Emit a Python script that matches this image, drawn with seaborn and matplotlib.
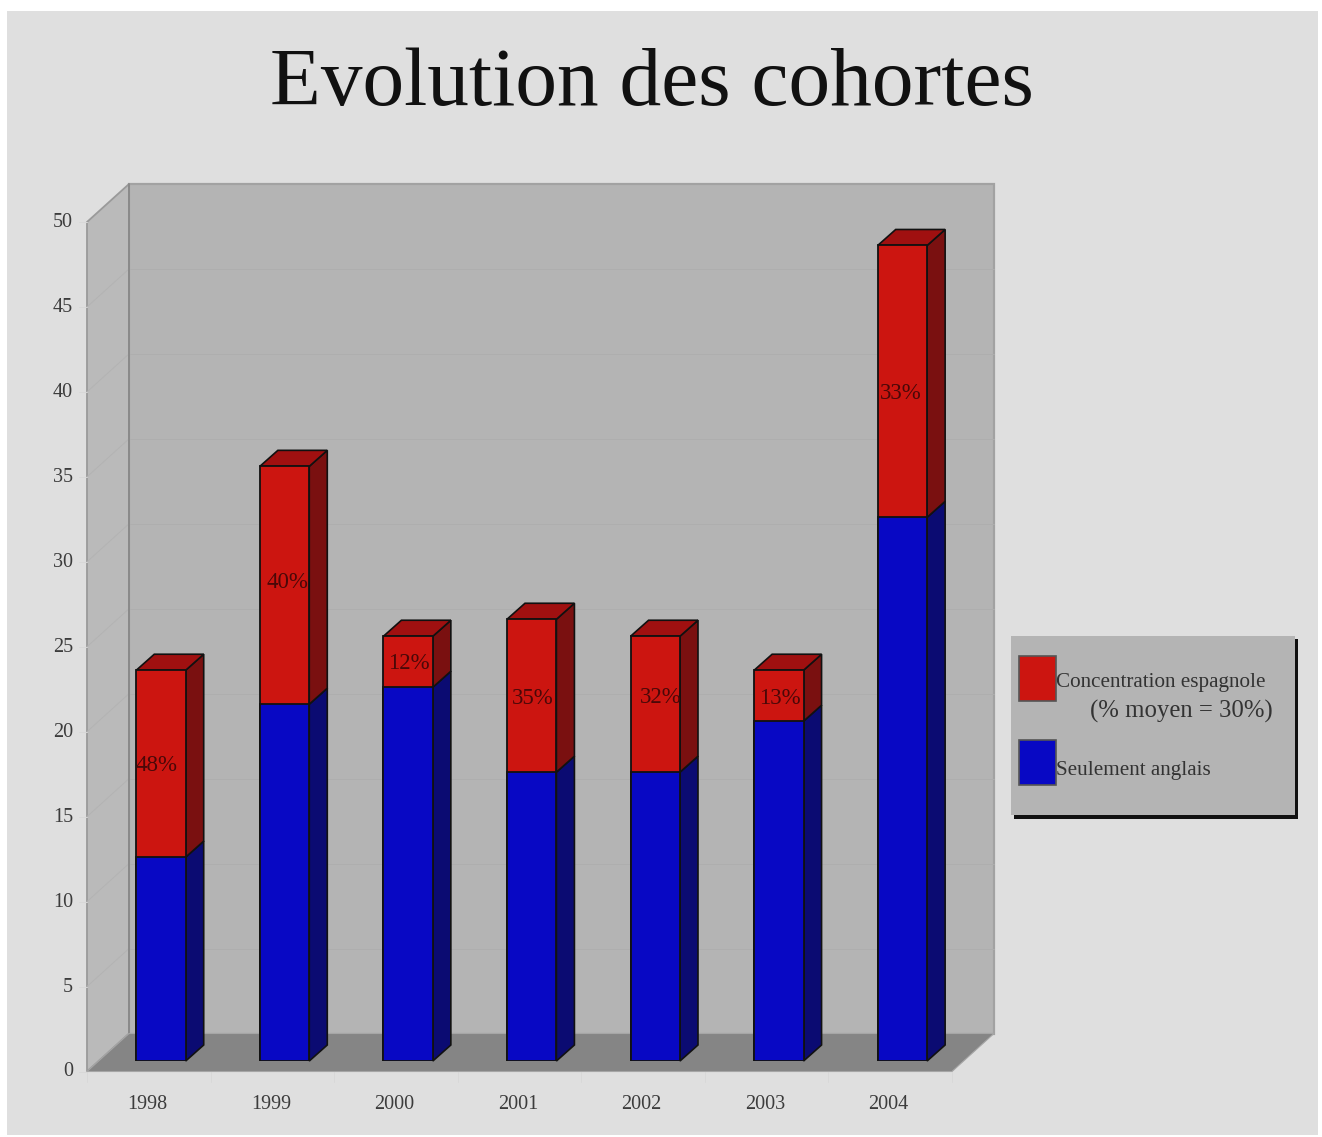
import matplotlib
matplotlib.use("Agg")
import matplotlib.pyplot as plt
import seaborn as sns
from matplotlib.patches import Polygon, Rectangle
from matplotlib.transforms import IdentityTransform, Affine2D

years = ["1998", "1999", "2000", "2001", "2002", "2003", "2004"]
english_only = [12, 21, 22, 17, 17, 20, 32]
totals = [23, 35, 25, 26, 25, 23, 48]
pct_labels = ["48%", "40%", "12%", "35%", "32%", "13%", "33%"]
label_nudge_x = [-4, 3, 1, 1, 5, 1, -2]
label_nudge_y = [-3, 2, -3, -4, 6, -4, -13]
y_ticks = [0, 5, 10, 15, 20, 25, 30, 35, 40, 45, 50]

W, H = 1322, 1137
sns.set_theme(style="white")
plt.rcParams["font.family"] = ["Liberation Serif", "DejaVu Serif"]
fig = plt.figure(figsize=(W / 100, H / 100), dpi=100, facecolor="white")


def figrect(x0, y0, x1, y1, **kw):
    fig.patches.append(Rectangle((x0 / W, 1 - y1 / H), (x1 - x0) / W, (y1 - y0) / H,
                                 transform=fig.transFigure, **kw))


figrect(7, 11, 1318, 1135, fc="#DFDFDF", ec="none", zorder=-5)

# front plane axes: ticks and labels
ax = fig.add_axes([87 / W, 1 - 1071.5 / H, 865 / W, 849.5 / H], zorder=2)
ax.set_xlim(-0.5, 6.5)
ax.set_ylim(0, 50)
ax.patch.set_alpha(0)
for s in ax.spines.values():
    s.set_visible(False)
ax.set_xticks(range(len(years)))
ax.set_xticklabels(years)
ax.set_yticks(y_ticks)
ax.tick_params(axis="x", length=0, pad=17, labelsize=14.5, labelcolor="#3C3C3C")
ax.tick_params(axis="y", length=0, pad=10, labelsize=14.5, labelcolor="#3C3C3C")
for lab in ax.get_yticklabels():
    lab.set_transform(lab.get_transform() + Affine2D().translate(0, 2))
for lab in ax.get_xticklabels():
    lab.set_transform(lab.get_transform() + Affine2D().translate(-1.5, 0))

# overlay axes: bars, shifted inside the box depth
ax2 = fig.add_axes([(87 + 12.2) / W, 1 - 1061 / H, 865 / W, 849.5 / H], zorder=3)
sns.barplot(x=years, y=totals, color="#CC1510", width=0.4, saturation=1,
            edgecolor="#111111", linewidth=1.3, ax=ax2, zorder=5)
sns.barplot(x=years, y=english_only, color="#0808C4", width=0.4, saturation=1,
            edgecolor="#111111", linewidth=1.3, ax=ax2, zorder=6)
ax2.set_xlim(-0.5, 6.5)
ax2.set_ylim(0, 50)
ax2.axis("off")

DX, DY = 42, 38     # box depth in px
BX, BY = 18, 16     # bar depth in px


def poly(axis, pts, **kw):
    axis.add_patch(Polygon(pts, closed=True, transform=IdentityTransform(), clip_on=False, **kw))


fig.canvas.draw()
T = ax.transData.transform
x0, y0 = T((-0.5, 0))
x1, y1 = T((6.5, 50))
poly(ax, [(x0 + DX, y0 + DY), (x1 + DX, y0 + DY), (x1 + DX, y1 + DY), (x0 + DX, y1 + DY)],
     fc="#B4B4B4", ec="#A2A2A2", lw=1.6, zorder=1)
poly(ax, [(x0, y0), (x0 + DX, y0 + DY), (x0 + DX, y1 + DY), (x0, y1)],
     fc="#BABABA", ec="#9A9A9A", lw=1.3, zorder=2)
poly(ax, [(x0, y0), (x1, y0), (x1 + DX, y0 + DY), (x0 + DX, y0 + DY)],
     fc="#858585", ec="#A6A6A6", lw=0.8, zorder=3)
ax.plot([x0 + DX, x0 + DX], [y0 + DY, y1 + DY], color="#8A8A8A", lw=1.4,
        transform=IdentityTransform(), zorder=2.5, clip_on=False)

# faint gridlines on walls and small ticks
for v in y_ticks[1:-1]:
    _, yy = T((0, v))
    ax.plot([x0 + DX, x1 + DX], [yy + DY, yy + DY], color="#AEAEAE", lw=0.7,
            transform=IdentityTransform(), zorder=1.5, clip_on=False)
    ax.plot([x0, x0 + DX], [yy, yy + DY], color="#B3B3B3", lw=0.7,
            transform=IdentityTransform(), zorder=2.2, clip_on=False)
for v in y_ticks:
    _, yy = T((0, v))
    ax.plot([x0 - 8, x0], [yy, yy], color="#D8D8D8", lw=0.7,
            transform=IdentityTransform(), clip_on=False)
for i in range(len(years) + 1):
    xx, _ = T((i - 0.5, 0))
    ax.plot([xx, xx], [y0, y0 - 10], color="#D8D8D8", lw=0.7,
            transform=IdentityTransform(), clip_on=False)
ax.set_xlim(-0.5, 6.5)
ax.set_ylim(0, 50)

# 3D faces of the bars
T2 = ax2.transData.transform
hw = 0.2
for i, (low, tot) in enumerate(zip(english_only, totals)):
    xa, yb = T2((i - hw, 0))
    xb, yl = T2((i + hw, low))
    _, yt = T2((i, tot))
    edge = dict(ec="#111111", lw=1.2, zorder=4)
    poly(ax2, [(xb, yb), (xb + BX, yb + BY), (xb + BX, yl + BY), (xb, yl)], fc="#0B0B72", **edge)
    poly(ax2, [(xb, yl), (xb + BX, yl + BY), (xb + BX, yt + BY), (xb, yt)], fc="#7A1010", **edge)
    poly(ax2, [(xa, yt), (xb, yt), (xb + BX, yt + BY), (xa + BX, yt + BY)], fc="#A01010", **edge)
    cx, cy = T2((i, (low + tot) / 2))
    ax2.text(cx + label_nudge_x[i], cy + 1 + label_nudge_y[i], pct_labels[i],
             transform=IdentityTransform(), ha="center", va="center",
             fontsize=16.5, color="#4A0808", zorder=8)

# title
fig.text(652 / W, 1 - 85 / H, "Evolution des cohortes", ha="center", va="center",
         fontsize=60, color="#111111")

# legend
figrect(1014, 639, 1298, 819, fc="#111111", ec="none")
figrect(1011, 636, 1295, 815, fc="#B4B4B4", ec="none")
figrect(1018.5, 655.5, 1055.5, 700.5, fc="#CC1510", ec="#555555", lw=1.2)
figrect(1018.5, 740, 1055.5, 785, fc="#0808C4", ec="#555555", lw=1.2)
fig.text(1056 / W, 1 - 682 / H, "Concentration espagnole", ha="left", va="center",
         fontsize=15.2, color="#333333")
fig.text(1090 / W, 1 - 711 / H, "(% moyen = 30%)", ha="left", va="center",
         fontsize=17.8, color="#333333")
fig.text(1056 / W, 1 - 771 / H, "Seulement anglais", ha="left", va="center",
         fontsize=15.2, color="#333333")

fig.savefig("out.png", dpi=100, facecolor="white")
